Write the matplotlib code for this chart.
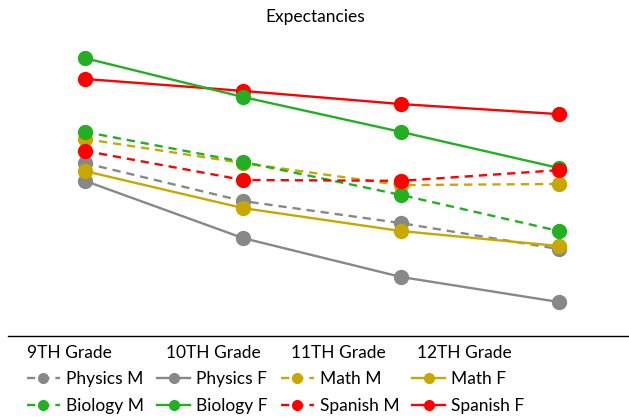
import matplotlib
matplotlib.use("Agg")
import matplotlib.pyplot as plt

grades = ["9TH Grade", "10TH Grade", "11TH Grade", "12TH Grade"]

physics_m = [5.65, 4.41, 3.69, 2.84]
physics_f = [5.07, 3.20, 1.93, 1.11]
math_m = [6.44, 5.65, 4.93, 4.97]
math_f = [5.39, 4.18, 3.43, 2.94]
biology_m = [6.67, 5.69, 4.61, 3.43]
biology_f = [9.08, 7.81, 6.67, 5.49]
spanish_m = [6.05, 5.10, 5.07, 5.42]
spanish_f = [8.40, 8.01, 7.58, 7.25]

gray = "#888888"
green = "#22b022"
yellow = "#c8a800"
red = "#ff0000"

plt.rcParams["font.family"] = ["Lato", "DejaVu Sans"]
fs = 12.5

fig = plt.figure(figsize=(6.29, 4.2), dpi=100)
ax = fig.add_axes([8 / 629, 84 / 420, 621 / 629, 306 / 420])

x = list(range(len(grades)))
# series: (label, values, colour, dashed, zorder)
series = [
    ("Physics M", physics_m, gray, True, 2),
    ("Physics F", physics_f, gray, False, 3),
    ("Math M", math_m, yellow, True, 4),
    ("Math F", math_f, yellow, False, 5),
    ("Spanish F", spanish_f, red, False, 6),
    ("Biology M", biology_m, green, True, 7),
    ("Biology F", biology_f, green, False, 8),
    ("Spanish M", spanish_m, red, True, 9),
]
handles = {}
for label, vals, col, dashed, z in series:
    ls = (0, (3.5, 2.5)) if dashed else "-"
    (h,) = ax.plot(x, vals, color=col, linestyle=ls, linewidth=1.7,
                   marker="o", markersize=10, label=label, zorder=z)
    handles[label] = h

ax.set_xlim(-0.487, 3.443)
ax.set_ylim(0, 10)
ax.set_yticks([])
ax.set_xticks([])
for s in ["top", "right", "left"]:
    ax.spines[s].set_visible(False)
ax.spines["bottom"].set_linewidth(1.0)

fig.text(315 / 629, 1 - 17 / 420, "Expectancies", ha="center", va="center", fontsize=fs)

label_x = [27, 166, 291, 417]
for lx, g in zip(label_x, grades):
    fig.text(lx / 629, 1 - 353 / 420, g, ha="left", va="center", fontsize=fs)

order = ["Physics M", "Biology M", "Physics F", "Biology F",
         "Math M", "Spanish M", "Math F", "Spanish F"]
fig.legend([handles[k] for k in order], order, ncol=4, frameon=False,
           loc="upper left", bbox_to_anchor=(27 / 629, 1 - 371 / 420),
           borderpad=0, borderaxespad=0, fontsize=fs, markerscale=0.7,
           handlelength=1.9, handletextpad=0.35, columnspacing=0.75,
           labelspacing=0.62)

fig.savefig("out.png", dpi=100)
